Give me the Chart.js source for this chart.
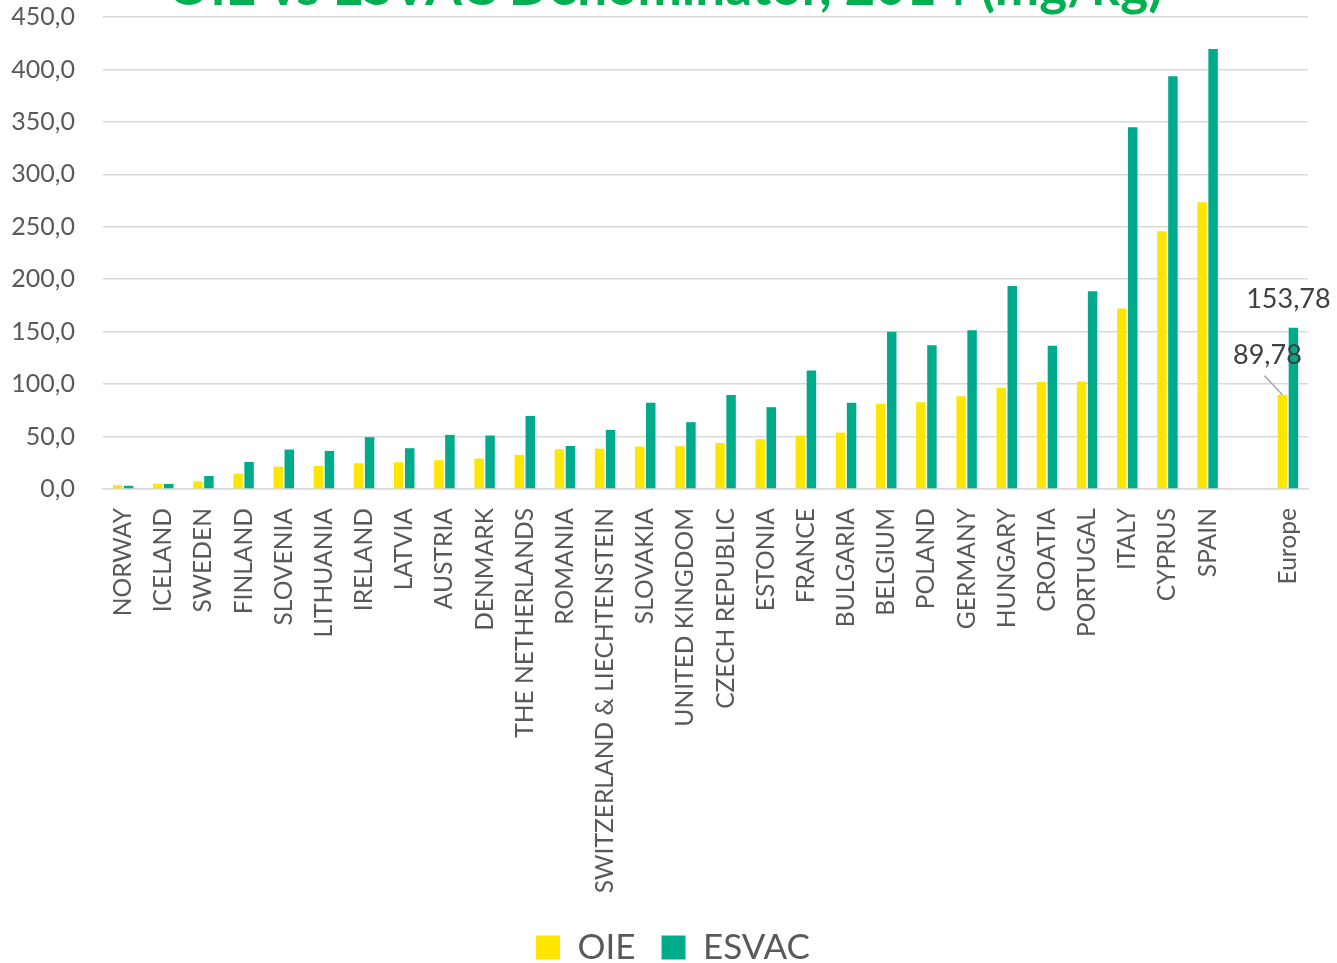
<!DOCTYPE html>
<html>
<head>
<meta charset="utf-8">
<script src="https://cdn.jsdelivr.net/npm/chart.js@4.4.1/dist/chart.umd.min.js"></script>
<style>
html,body{margin:0;padding:0;background:#fff;overflow:hidden;}
#wrap{position:absolute;left:0;top:0;width:1337px;height:963px;}
</style>
</head>
<body>
<div id="wrap"><canvas id="c" width="1337" height="963"></canvas></div>
<script>
const TITLE = "OIE vs ESVAC Denominator, 2014 (mg/kg)";
const categories = ["NORWAY","ICELAND","SWEDEN","FINLAND","SLOVENIA","LITHUANIA","IRELAND","LATVIA","AUSTRIA","DENMARK","THE NETHERLANDS","ROMANIA","SWITZERLAND & LIECHTENSTEIN","SLOVAKIA","UNITED KINGDOM","CZECH REPUBLIC","ESTONIA","FRANCE","BULGARIA","BELGIUM","POLAND","GERMANY","HUNGARY","CROATIA","PORTUGAL","ITALY","CYPRUS","SPAIN","","Europe"];
const oieValues   = [3.6,5.1,7.3,14.6,21.3,22.0,24.5,25.5,27.4,29.0,32.5,37.9,38.5,40.4,40.8,43.9,47.5,50.9,53.8,81.2,82.8,88.5,96.5,101.9,102.5,172.0,245.8,273.5,null,89.78];
const esvacValues = [3.1,4.8,12.4,25.8,37.6,36.3,49.4,38.9,51.6,51.0,69.7,41.0,56.4,82.2,63.7,89.5,78.0,113.0,82.2,150.0,137.0,151.3,193.6,136.6,188.5,344.9,393.6,419.4,null,153.78];
const seriesNames = ["OIE","ESVAC"];
const labelledCategory = "Europe";
const yTicks = {min:0, max:450, step:50};

const fmt = v => v.toFixed(2).replace('.', ',');
const FONT = "Lato, 'Open Sans', sans-serif";

const titlePlugin = {
  id:'topTitle',
  afterDraw(chart){
    const ctx = chart.ctx;
    ctx.save();
    ctx.font = "bold 53px " + FONT;
    ctx.fillStyle = "#00B050";
    ctx.textAlign = "center";
    ctx.textBaseline = "alphabetic";
    ctx.fillText(TITLE, 665, 5);
    ctx.restore();
  }
};

const legendShift = {
  id:'legendShift',
  afterLayout(chart){
    if (chart.legend){ chart.legend.left += 15; chart.legend.right += 15; }
  }
};

const dataLabelPlugin = {
  id:'europeLabels',
  afterDatasetsDraw(chart){
    const idx = categories.indexOf(labelledCategory);
    const ctx = chart.ctx;
    ctx.save();
    ctx.font = "27px " + FONT;
    ctx.fillStyle = "#404040";
    ctx.textAlign = "center";
    ctx.textBaseline = "middle";
    const b0 = chart.getDatasetMeta(0).data[idx];
    const b1 = chart.getDatasetMeta(1).data[idx];
    ctx.strokeStyle = "#A6A6A6";
    ctx.lineWidth = 1.5;
    ctx.beginPath();
    ctx.moveTo(b0.x - 18, b0.y - 19);
    ctx.lineTo(b0.x, b0.y);
    ctx.stroke();
    ctx.fillText(fmt(oieValues[idx]), b0.x - 15, b0.y - 40);
    ctx.fillText(fmt(esvacValues[idx]), b1.x - 5, b1.y - 28);
    ctx.restore();
  }
};

new Chart(document.getElementById('c'), {
  type:'bar',
  data:{
    labels: categories,
    datasets:[
      {label:seriesNames[0], data:oieValues, backgroundColor:'#FFE600', categoryPercentage:0.548, barPercentage:0.86},
      {label:seriesNames[1], data:esvacValues, backgroundColor:'#00AB8C', categoryPercentage:0.548, barPercentage:0.86}
    ]
  },
  options:{
    responsive:false,
    animation:false,
    devicePixelRatio:1,
    layout:{padding:{left:8,right:29,top:17,bottom:-12}},
    plugins:{
      legend:{
        position:'bottom',
        labels:{boxWidth:24, boxHeight:24, padding:26, color:'#595959', font:{family:FONT, size:35}}
      },
      tooltip:{enabled:false},
      title:{display:false}
    },
    scales:{
      x:{
        grid:{display:false, drawTicks:false},
        border:{display:true, color:'#D9D9D9', width:1.5},
        ticks:{autoSkip:false, maxRotation:90, minRotation:90, padding:19, color:'#595959', font:{family:FONT, size:24.6}},
        afterFit(scale){ scale.paddingLeft = 0; scale.paddingRight = 0; scale.height = 415; }
      },
      y:{
        min:yTicks.min, max:yTicks.max,
        grid:{color:'#D9D9D9', lineWidth:1.5, drawTicks:false},
        border:{display:false},
        ticks:{stepSize:yTicks.step, padding:28, color:'#595959', font:{family:FONT, size:25},
          callback:v => v.toFixed(1).replace('.', ',')},
        afterFit(scale){ scale.paddingTop = 0; scale.paddingBottom = 0; scale.width = 95; }
      }
    }
  },
  plugins:[titlePlugin, legendShift, dataLabelPlugin]
});
</script>
</body>
</html>
